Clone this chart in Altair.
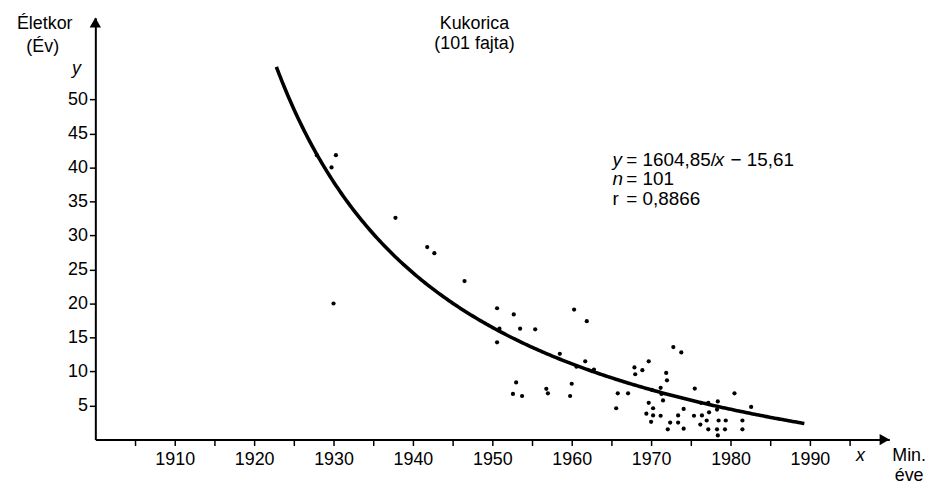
import altair as alt
import pandas as pd

# --- data ---
years = [1927.9, 1930.3, 1929.75, 1930.0, 1937.8, 1941.8, 1942.7, 1946.5, 1950.6, 1952.7,
         1950.9, 1953.5, 1955.4, 1950.6, 1958.5, 1953.0, 1952.6, 1953.75, 1956.8, 1957.0,
         1960.3, 1961.9, 1961.7, 1960.6, 1962.8, 1960.0, 1959.8, 1965.6, 1965.8, 1967.1,
         1967.9, 1968.0, 1968.9, 1969.7, 1970.1, 1969.7, 1970.25, 1969.4, 1970.25, 1970.0,
         1971.2, 1971.2, 1971.3, 1971.5, 1971.9, 1972.0, 1972.8, 1973.8, 1972.4, 1972.1,
         1973.4, 1973.4, 1974.1, 1974.1, 1975.5, 1975.4, 1976.4, 1976.2, 1976.3, 1977.2,
         1977.0, 1977.3, 1978.4, 1978.3, 1978.5, 1977.2, 1978.3, 1978.4, 1979.4, 1979.3,
         1980.5, 1981.5, 1981.5, 1982.6]
ages = [41.8, 41.8, 40.0, 20.0, 32.6, 28.3, 27.4, 23.3, 19.3, 18.4,
        16.3, 16.3, 16.2, 14.3, 12.6, 8.4, 6.7, 6.4, 7.45, 6.8,
        19.1, 17.4, 11.5, 10.7, 10.3, 8.2, 6.4, 4.6, 6.8, 6.8,
        10.6, 9.6, 10.2, 11.5, 7.3, 5.4, 4.6, 3.8, 3.55, 2.6,
        3.5, 7.6, 6.7, 5.75, 9.8, 8.7, 13.6, 12.8, 2.5, 1.5,
        3.55, 2.5, 4.5, 1.6, 7.5, 3.5, 3.55, 2.2, 5.4, 5.4,
        2.8, 4.0, 5.6, 4.4, 2.8, 1.5, 1.5, 0.6, 2.8, 1.5,
        6.8, 2.8, 1.5, 4.8]

# fitted curve stated on the chart: y = 1604,85/x - 15,61 (x = years after 1900)
coef_a = 1604.85
coef_b = 15.61
curve_start = 1922.8
curve_end = 1989.5

x_ticks = list(range(1905, 1996, 5))
y_ticks = list(range(5, 51, 5))

FONT = "Liberation Sans"
FS = 18

pts = pd.DataFrame({"year": years, "age": ages})

xscale = alt.Scale(domain=[1900, 2000], nice=False, zero=False)
yscale = alt.Scale(domain=[0, 62], nice=False, zero=False)

xaxis = alt.Axis(values=x_ticks, format="d",
                 labelExpr="datum.value % 10 == 0 ? datum.label : ''",
                 title=None, grid=False, domainColor="black", domainWidth=2,
                 tickColor="black", tickWidth=1.5, tickSize=6,
                 labelColor="black", labelFont=FONT, labelFontSize=FS,
                 labelPadding=5, labelFlush=False, labelOverlap=False)
yaxis = alt.Axis(values=y_ticks, title=None, grid=False, domainColor="black",
                 domainWidth=2, tickColor="black", tickWidth=1.5, tickSize=6,
                 labelColor="black", labelFont=FONT, labelFontSize=FS,
                 labelPadding=2, labelOverlap=False)

points = alt.Chart(pts).mark_circle(color="black", opacity=1, size=18).encode(
    x=alt.X("year:Q", scale=xscale, axis=xaxis),
    y=alt.Y("age:Q", scale=yscale, axis=yaxis),
)

curve = alt.Chart(alt.sequence(curve_start, curve_end + 0.01, 0.25, as_="yr")).transform_calculate(
    fit=f"{coef_a}/(datum.yr - 1900) - {coef_b}"
).mark_line(color="black", strokeWidth=3.6).encode(
    x=alt.X("yr:Q", scale=xscale, axis=xaxis),
    y=alt.Y("fit:Q", scale=yscale, axis=yaxis),
)

arrow_x = alt.Chart(pd.DataFrame({"a": [0]})).mark_point(
    shape="triangle-right", filled=True, color="black", opacity=1, size=130
).encode(x=alt.datum(1999.4, scale=xscale), y=alt.datum(0, scale=yscale))
arrow_y = alt.Chart(pd.DataFrame({"a": [0]})).mark_point(
    shape="triangle-up", filled=True, color="black", opacity=1, size=130
).encode(x=alt.datum(1900, scale=xscale), y=alt.datum(61.3, scale=yscale))


def txt(s, x, y, align="center", style="normal", size=FS):
    return alt.Chart(pd.DataFrame({"t": [s]})).mark_text(
        font=FONT, fontSize=size, fontStyle=style, color="black",
        align=align, baseline="middle"
    ).encode(text="t:N", x=alt.value(x), y=alt.value(y))


EQ = 19
texts = [
    txt("Kukorica", 382, 6),
    txt("(101 fajta)", 382, 26),
    txt("y", 521, 143, align="left", style="italic", size=EQ),
    txt("= 1604,85/", 535, 143, align="left", size=EQ),
    txt("x", 624, 143, align="left", style="italic", size=EQ),
    txt("− 15,61", 640, 143, align="left", size=EQ),
    txt("n", 521, 163, align="left", style="italic", size=EQ),
    txt("= 101", 535, 163, align="left", size=EQ),
    txt("r", 521, 183, align="left", size=EQ),
    txt("= 0,8866", 535, 183, align="left", size=EQ),
    txt("Életkor", -51, 6),
    txt("(Év)", -53, 29),
    txt("y", -19, 52, style="italic"),
    txt("x", 771, 442, style="italic"),
    txt("Min.", 820, 442),
    txt("éve", 820, 462),
]

chart = alt.layer(curve, points, arrow_x, arrow_y, *texts).properties(
    width=800, height=425,
    autosize=alt.AutoSizeParams(type="none"),
    padding={"left": 88, "top": 8, "right": 40, "bottom": 50},
    background="white",
).configure_view(stroke=None)

chart.save("out.html", embed_options={"renderer": "svg", "actions": False})
